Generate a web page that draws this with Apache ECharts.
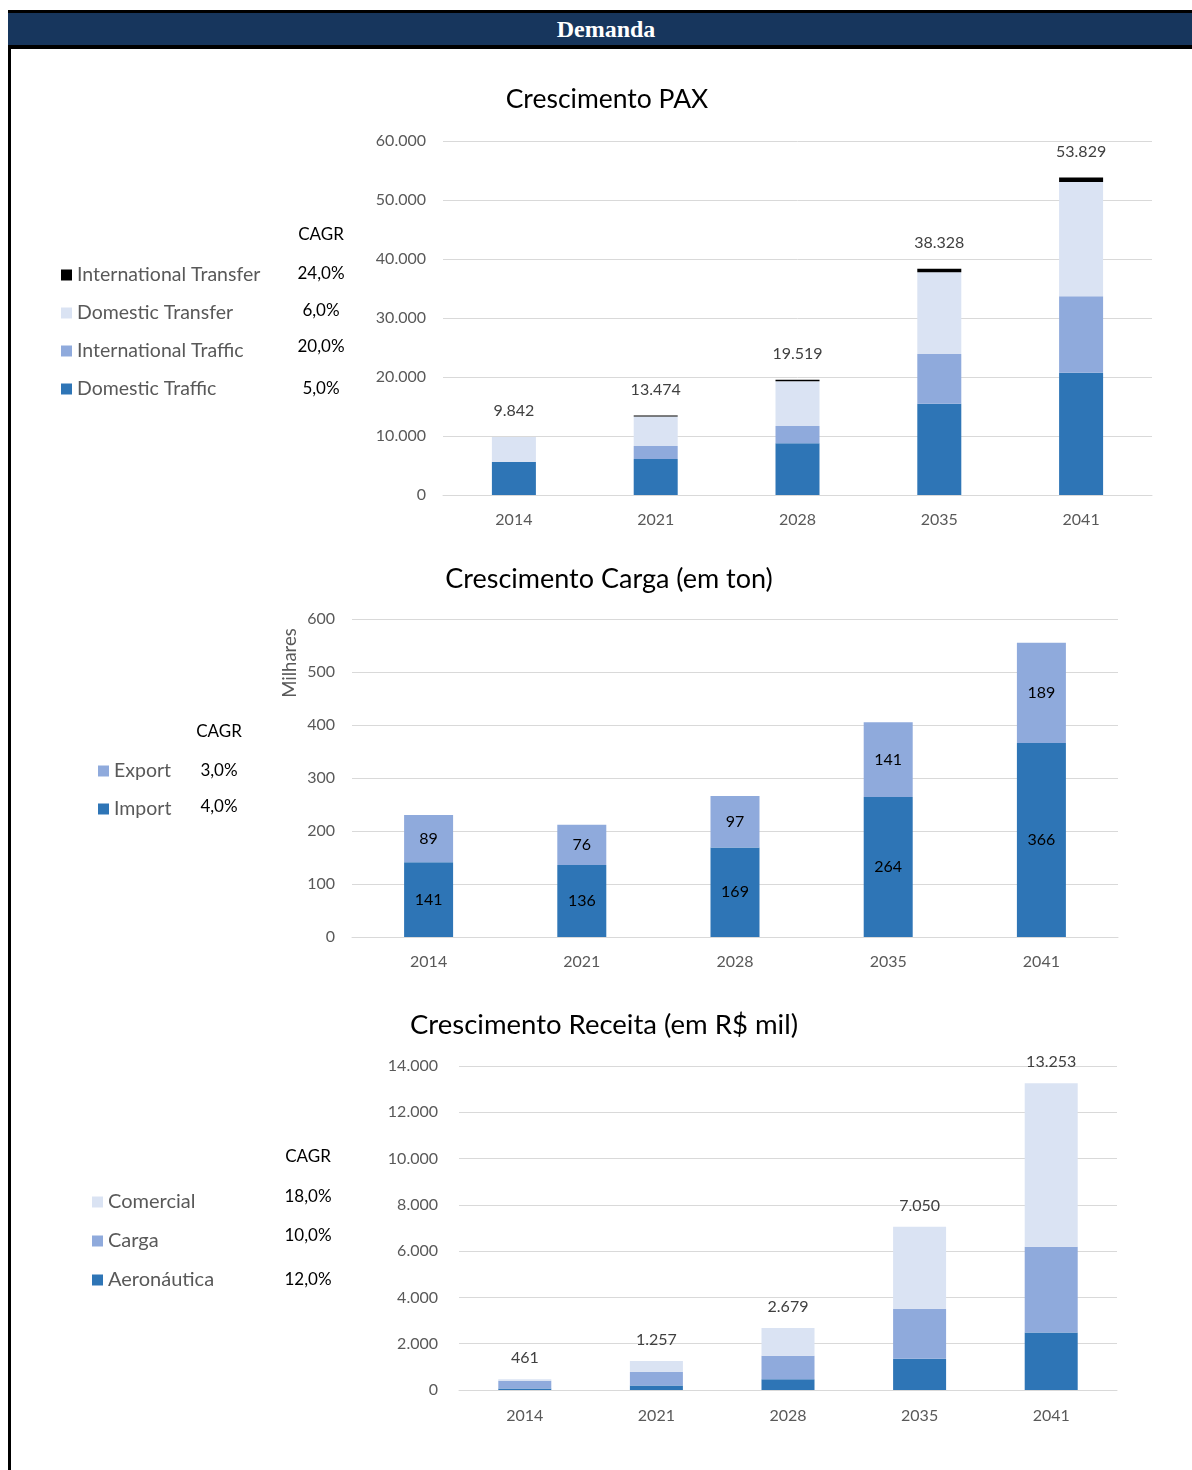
<!DOCTYPE html>
<html>
<head>
<meta charset="utf-8">
<title>Demanda</title>
<script src="https://cdn.jsdelivr.net/npm/echarts@6/dist/echarts.min.js"></script>
<style>
  html, body { margin: 0; padding: 0; background: #ffffff; }
  body { width: 1192px; height: 1470px; position: relative; overflow: hidden; }
  #frameLeft { position: absolute; left: 8px; top: 10px; width: 3px; height: 1460px; background: #000; }
  #header {
    position: absolute; left: 8px; top: 10px; width: 1172px; height: 32px; padding-left: 12px;
    background: #17365D; border-top: 3px solid #000; border-bottom: 4px solid #000;
    color: #ffffff; font-family: "Liberation Serif", "DejaVu Serif", serif;
    font-weight: bold; font-size: 24px; line-height: 32px; text-align: center;
  }
  #chart { position: absolute; left: 0; top: 0; width: 1192px; height: 1470px; }
</style>
</head>
<body>
<div id="frameLeft"></div>
<div id="header">Demanda</div>
<div id="chart"></div>
<script>
// ---- Crescimento PAX (milhares de passageiros) ----
const paxYears = ['2014', '2021', '2028', '2035', '2041'];
const paxDomesticTraffic = [5600, 6100, 8780, 15450, 20710];
const paxInternationalTraffic = [0, 2200, 2930, 8440, 12960];
const paxDomesticTransfer = [4242, 5000, 7560, 13870, 19380];
const paxInternationalTransfer = [0, 174, 249, 568, 779];
const paxLegend = ['International Transfer', 'Domestic Transfer', 'International Traffic', 'Domestic Traffic'];
const paxCagr = ['24,0%', '6,0%', '20,0%', '5,0%'];

// ---- Crescimento Carga (em ton, milhares) ----
const cargaYears = ['2014', '2021', '2028', '2035', '2041'];
const cargaImport = [141, 136, 169, 264, 366];
const cargaExport = [89, 76, 97, 141, 189];
const cargaLegend = ['Export', 'Import'];
const cargaCagr = ['3,0%', '4,0%'];

// ---- Crescimento Receita (em R$ mil) ----
const receitaYears = ['2014', '2021', '2028', '2035', '2041'];
const receitaAeronautica = [60, 190, 460, 1350, 2480];
const receitaCarga = [340, 600, 1020, 2160, 3710];
const receitaComercial = [61, 467, 1199, 3540, 7063];
const receitaLegend = ['Comercial', 'Carga', 'Aeronáutica'];
const receitaCagr = ['18,0%', '10,0%', '12,0%'];

const FONT = 'Lato, "Open Sans", sans-serif';
const C_DARK = '#2E75B6';
const C_MID = '#8FAADC';
const C_LIGHT = '#DAE3F3';
const C_BLACK = '#000000';
const GRID_COLOR = '#D9D9D9';
const TICK_COLOR = '#595959';

function fmt(n) {
  return String(Math.round(n)).replace(/\B(?=(\d{3})+(?!\d))/g, '.');
}
function sumArrays(...arrs) {
  return arrs[0].map((_, i) => arrs.reduce((s, a) => s + a[i], 0));
}

const paxTotals = sumArrays(paxDomesticTraffic, paxInternationalTraffic, paxDomesticTransfer, paxInternationalTransfer);
const receitaTotals = sumArrays(receitaAeronautica, receitaCarga, receitaComercial);

function xAxisFor(gridIndex, data, margin) {
  return {
    type: 'category', gridIndex, data,
    axisLine: { lineStyle: { color: GRID_COLOR, width: 1 } },
    axisTick: { show: false },
    axisLabel: { color: TICK_COLOR, fontSize: 16, fontFamily: FONT, margin }
  };
}
function yAxisFor(gridIndex, max, interval, margin) {
  return {
    type: 'value', gridIndex, min: 0, max, interval,
    axisLine: { show: false }, axisTick: { show: false },
    splitLine: { lineStyle: { color: GRID_COLOR, width: 1 } },
    axisLabel: { color: TICK_COLOR, fontSize: 16, fontFamily: FONT, margin, formatter: v => fmt(v) }
  };
}
// legend placed by the centre of its first row
function legendFor(names, left, firstCenterY, gap, fontSize) {
  return {
    data: names, orient: 'vertical', left, top: firstCenterY - 10, padding: 0,
    icon: 'rect', itemWidth: 11, itemHeight: 11, itemGap: gap - 20,
    selectedMode: false,
    textStyle: { color: TICK_COLOR, fontSize, fontFamily: FONT, lineHeight: 20 }
  };
}
function cagrTexts(header, values, x, ys) {
  const out = [{
    type: 'text', x, y: ys[0],
    style: { text: header, fill: '#000', font: '17px ' + FONT, textAlign: 'center', textVerticalAlign: 'middle' }
  }];
  values.forEach((v, i) => out.push({
    type: 'text', x, y: ys[i + 1],
    style: { text: v, fill: '#000', font: '17px ' + FONT, textAlign: 'center', textVerticalAlign: 'middle' }
  }));
  return out;
}
function titleFor(text, centerX, top, size) {
  return { text, left: centerX, top, textAlign: 'center', padding: 0,
    textStyle: { fontSize: size, fontWeight: 'normal', color: '#000', fontFamily: FONT } };
}

const option = {
  animation: false,
  backgroundColor: 'transparent',
  title: [
    titleFor('Crescimento PAX', 607, 86, 26.5),
    titleFor('Crescimento Carga (em ton)', 609, 566, 27),
    titleFor('Crescimento Receita (em R$ mil)', 604, 1011, 27.5)
  ],
  legend: [
    legendFor(paxLegend, 61, 275, 38, 19.5),
    legendFor(cargaLegend, 98, 771, 38, 19.5),
    legendFor(receitaLegend, 92, 1202, 39, 20)
  ],
  grid: [
    { left: 443, top: 141, width: 709, height: 354 },
    { left: 352, top: 619, width: 766, height: 318 },
    { left: 459, top: 1066, width: 658, height: 324 }
  ],
  xAxis: [xAxisFor(0, paxYears, 17), xAxisFor(1, cargaYears, 17), xAxisFor(2, receitaYears, 18)],
  yAxis: [yAxisFor(0, 60000, 10000, 17), yAxisFor(1, 600, 100, 17), yAxisFor(2, 14000, 2000, 21)],
  graphic: [
    ...cagrTexts('CAGR', paxCagr, 321, [235, 274, 311, 347, 389]),
    ...cagrTexts('CAGR', cargaCagr, 219, [732, 771, 807]),
    ...cagrTexts('CAGR', receitaCagr, 308, [1157, 1197, 1236, 1280]),
    {
      type: 'text', x: 290, y: 663, rotation: Math.PI / 2,
      style: { text: 'Milhares', fill: TICK_COLOR, font: '18.5px ' + FONT, textAlign: 'center', textVerticalAlign: 'middle' }
    }
  ],
  series: [
    // PAX
    { name: 'Domestic Traffic', type: 'bar', stack: 'pax', xAxisIndex: 0, yAxisIndex: 0,
      barWidth: 44, itemStyle: { color: C_DARK }, data: paxDomesticTraffic },
    { name: 'International Traffic', type: 'bar', stack: 'pax', xAxisIndex: 0, yAxisIndex: 0,
      barWidth: 44, itemStyle: { color: C_MID }, data: paxInternationalTraffic },
    { name: 'Domestic Transfer', type: 'bar', stack: 'pax', xAxisIndex: 0, yAxisIndex: 0,
      barWidth: 44, itemStyle: { color: C_LIGHT }, data: paxDomesticTransfer },
    { name: 'International Transfer', type: 'bar', stack: 'pax', xAxisIndex: 0, yAxisIndex: 0,
      barWidth: 44, itemStyle: { color: C_BLACK }, data: paxInternationalTransfer,
      label: { show: true, position: 'top', distance: 18, color: '#404040', fontSize: 16, fontFamily: FONT,
        formatter: p => fmt(paxTotals[p.dataIndex]) } },
    // Carga
    { name: 'Import', type: 'bar', stack: 'carga', xAxisIndex: 1, yAxisIndex: 1,
      barWidth: 49, itemStyle: { color: C_DARK }, data: cargaImport,
      label: { show: true, position: 'inside', color: '#000', fontSize: 16, fontFamily: FONT } },
    { name: 'Export', type: 'bar', stack: 'carga', xAxisIndex: 1, yAxisIndex: 1,
      barWidth: 49, itemStyle: { color: C_MID }, data: cargaExport,
      label: { show: true, position: 'inside', color: '#000', fontSize: 16, fontFamily: FONT } },
    // Receita
    { name: 'Aeronáutica', type: 'bar', stack: 'receita', xAxisIndex: 2, yAxisIndex: 2,
      barWidth: 53, itemStyle: { color: C_DARK }, data: receitaAeronautica },
    { name: 'Carga', type: 'bar', stack: 'receita', xAxisIndex: 2, yAxisIndex: 2,
      barWidth: 53, itemStyle: { color: C_MID }, data: receitaCarga },
    { name: 'Comercial', type: 'bar', stack: 'receita', xAxisIndex: 2, yAxisIndex: 2,
      barWidth: 53, itemStyle: { color: C_LIGHT }, data: receitaComercial,
      label: { show: true, position: 'top', distance: 13, color: '#404040', fontSize: 16, fontFamily: FONT,
        formatter: p => fmt(receitaTotals[p.dataIndex]) } }
  ]
};

const chart = echarts.init(document.getElementById('chart'), null, { renderer: 'canvas' });
chart.setOption(option);
</script>
</body>
</html>
